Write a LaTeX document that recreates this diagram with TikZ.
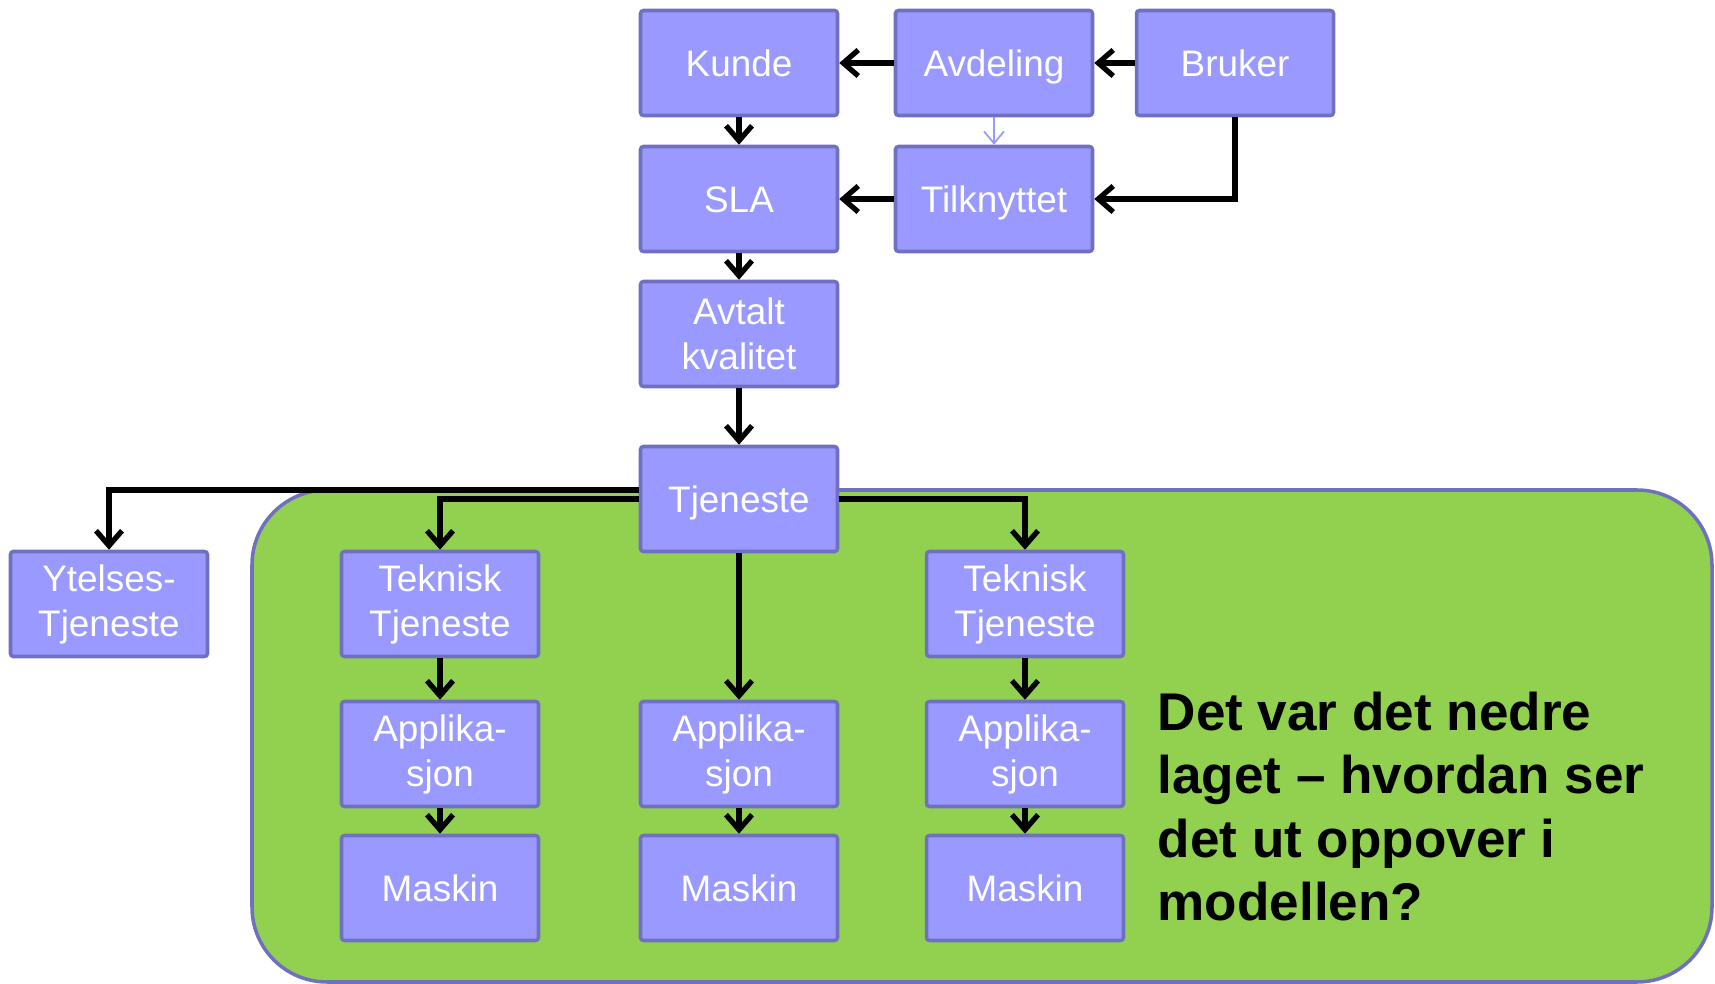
\documentclass[tikz,border=0pt]{standalone}
\usepackage{fontspec}
\setmainfont{Liberation Sans}
\usetikzlibrary{arrows.meta}
\definecolor{boksfyll}{RGB}{153,153,255}
\definecolor{boksrand}{RGB}{112,112,192}
\definecolor{lagfyll}{RGB}{146,208,80}
\begin{document}
\begin{tikzpicture}[x=0.1mm, y=-0.1mm,
      boks/.style = {shape=rectangle, rounded corners=0.3mm, draw=boksrand,
        line width=1pt, fill=boksfyll, text=white, align=center,
        minimum width=19.7mm, minimum height=10.5mm, inner sep=0pt,
        font=\fontsize{10.5}{12.8}\selectfont},
      enlinje/.style = {boks, text height=2.65mm, text depth=0pt},
      pil/.style = {line width=1.5pt, black,
        -{Straight Barb[length=1.5mm, width=2.6mm]}},
      tynnpil/.style = {line width=0.5pt, boksfyll,
        -{Straight Barb[length=1.2mm, width=2mm]}}]
  \useasboundingbox (0,0) rectangle (1715,984);
  \draw[fill=lagfyll, draw=boksrand, line width=1pt, rounded corners=7.5mm]
    (252,490) rectangle (1712,982);
  \node[enlinje] (kunde) at (739,63) {Kunde};
  \node[enlinje] (avdeling) at (994,63) {Avdeling};
  \node[enlinje] (bruker) at (1235,63) {Bruker};
  \node[enlinje] (sla) at (739,199) {SLA};
  \node[enlinje] (tilknyttet) at (994,199) {Tilknyttet};
  \node[boks] (avtalt) at (739,334) {Avtalt\\kvalitet};
  \node[enlinje] (tjeneste) at (739,499) {Tjeneste};
  \node[boks] (ytelses) at (109,604) {Ytelses-\\Tjeneste};
  \node[boks] (teknisk1) at (440,604) {Teknisk\\Tjeneste};
  \node[boks] (teknisk2) at (1025,604) {Teknisk\\Tjeneste};
  \node[boks] (app1) at (440,754) {Applika-\\sjon};
  \node[boks] (app2) at (739,754) {Applika-\\sjon};
  \node[boks] (app3) at (1025,754) {Applika-\\sjon};
  \node[enlinje] (maskin1) at (440,888) {Maskin};
  \node[enlinje] (maskin2) at (739,888) {Maskin};
  \node[enlinje] (maskin3) at (1025,888) {Maskin};
  \node[anchor=base west, align=left, inner sep=0pt,
    font=\fontsize{15.1}{18.1}\selectfont\bfseries] (tekst) at (1157,921)
    {Det var det nedre\\laget -- hvordan ser\\det ut oppover i\\modellen?};
  \draw[pil] (avdeling) -- (kunde);
  \draw[pil] (bruker) -- (avdeling);
  \draw[pil] (kunde) -- (sla);
  \draw[tynnpil] (avdeling) -- (tilknyttet);
  \draw[pil] (tilknyttet) -- (sla);
  \draw[pil] (bruker.south) |- (tilknyttet.east);
  \draw[pil] (sla) -- (avtalt);
  \draw[pil] (avtalt) -- (tjeneste);
  \draw[pil] ([yshift=0.9mm]tjeneste.west) -| (ytelses.north);
  \draw[pil] (tjeneste.west) -| (teknisk1.north);
  \draw[pil] (tjeneste.east) -| (teknisk2.north);
  \draw[pil] (tjeneste) -- (app2);
  \draw[pil] (teknisk1) -- (app1);
  \draw[pil] (app1) -- (maskin1);
  \draw[pil] (app2) -- (maskin2);
  \draw[pil] (teknisk2) -- (app3);
  \draw[pil] (app3) -- (maskin3);
\end{tikzpicture}
\end{document}
